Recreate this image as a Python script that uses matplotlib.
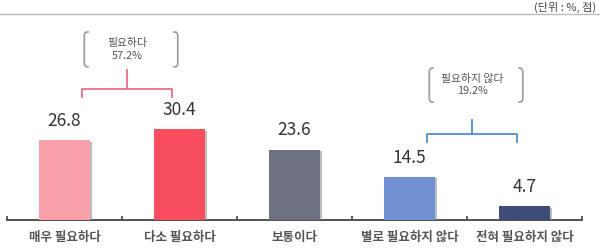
import numpy as np
import matplotlib
matplotlib.use("Agg")
import matplotlib.pyplot as plt
import matplotlib.patheffects as pe

plt.rcParams['font.family'] = ['Noto Sans CJK KR', 'DejaVu Sans']

categories = ["매우 필요하다", "다소 필요하다", "보통이다", "별로 필요하지 않다", "전혀 필요하지 않다"]
values = [26.8, 30.4, 23.6, 14.5, 4.7]
colors = ["#F9A1AA", "#F94D60", "#6E7180", "#7191D2", "#3E4D78"]
unit_text = "(단위 : %, 점)"
groups = [("필요하다", [0, 1], "#E8708A"), ("필요하지 않다", [3, 4], "#4C8FD0")]

fig = plt.figure(figsize=(6, 2.52), dpi=100)
ax = fig.add_axes([7 / 600, 32 / 252, 575 / 600, 200 / 252])

x = np.arange(len(categories))
bars = ax.bar(x, values, width=0.435, color=colors, zorder=3)
for b in bars:
    b.set_path_effects([pe.SimplePatchShadow(offset=(1.8, -1.2), shadow_rgbFace="#888888", alpha=0.55), pe.Normal()])

for xi, v in zip(x, values):
    ax.text(xi, v + 3.4, f"{v:.1f}", ha="center", va="bottom", fontsize=12.5, color="#333333")

ax.set_xlim(-0.5, len(categories) - 0.5)
ax.set_ylim(0, 67)
for s in ["top", "right", "left"]:
    ax.spines[s].set_visible(False)
ax.spines["bottom"].set_color("#444444")
ax.spines["bottom"].set_linewidth(1.3)
ax.set_yticks([])
ax.set_xticks(x)
ax.set_xticklabels(categories, fontsize=9, color="#555555", fontweight="bold")
ax.tick_params(axis="x", which="major", length=0, pad=8)
ax.set_xticks(np.arange(-0.5, len(categories), 1), minor=True)
ax.tick_params(axis="x", which="minor", length=3, direction="in", color="#444444", width=1.2)


def paren(ax, x0, y0, y1, side, color="#9C9C9C"):
    d = 0.035 * side
    r = 0.9
    xs = [x0 + d, x0 + d * 0.3, x0, x0, x0 + d * 0.3, x0 + d]
    ys = [y1, y1 - r * 0.15, y1 - r, y0 + r, y0 + r * 0.15, y0]
    ax.plot(xs, ys, color=color, lw=1.2, clip_on=False, solid_capstyle="round")


def group_note(ax, label, idx, color, y_bar, drop, stem_top, box_lo, box_hi):
    left = idx[0] + 0.152
    right = idx[1] - 0.065
    mid = (left + right) / 2
    ax.plot([left, left, right, right], [y_bar - drop, y_bar, y_bar, y_bar - drop], color=color, lw=1.3, clip_on=False)
    ax.plot([mid, mid], [y_bar, stem_top], color=color, lw=1.3, clip_on=False)
    paren(ax, left + 0.02, box_lo, box_hi, 1)
    paren(ax, right + 0.05, box_lo, box_hi, -1)
    total = sum(values[i] for i in idx)
    ax.text(mid, (box_lo + box_hi) / 2, f"{label}\n{total:.1f}%", ha="center", va="center",
            fontsize=7.8, color="#555555", linespacing=1.3)


group_note(ax, groups[0][0], groups[0][1], groups[0][2], 43.9, 2.7, 50.2, 51.3, 63.0)
group_note(ax, groups[1][0], groups[1][1], groups[1][2], 28.8, 2.7, 33.5, 39.5, 50.9)

fig.add_artist(plt.Line2D([0, 1], [1 - 14 / 252, 1 - 14 / 252], color="#BBBBBB", lw=1.0))
fig.text(0.993, 1 - 7.5 / 252, unit_text, ha="right", va="center", fontsize=8, color="#444444")

fig.savefig("out.png", dpi=100)
